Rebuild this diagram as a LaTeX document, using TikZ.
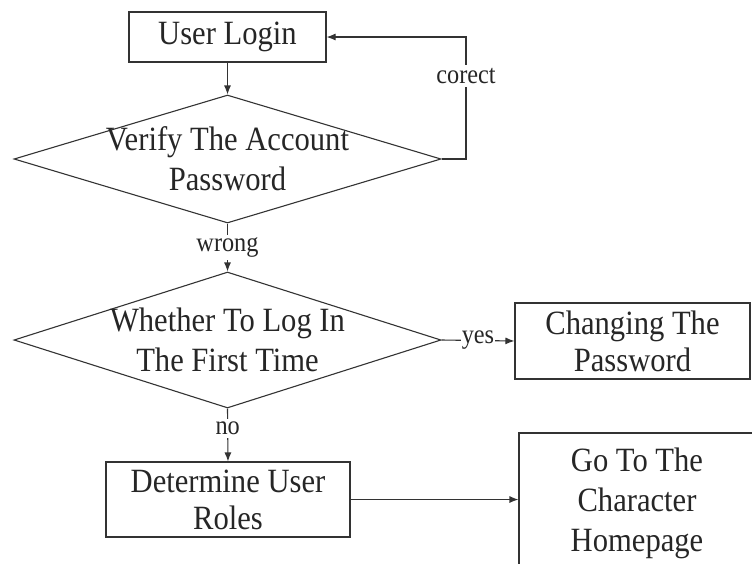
\documentclass[tikz,border=0pt]{standalone}
\usepackage{fontspec}
\setmainfont{Liberation Serif}
\newfontfamily\condfont[FakeStretch=0.9]{Liberation Serif}
\usetikzlibrary{shapes.geometric,arrows.meta}
\definecolor{ln}{HTML}{333333}
\definecolor{tx}{HTML}{262626}
\begin{document}
\begin{tikzpicture}[x=1pt,y=-1pt,
  line width=1.1pt,
  arr/.style={draw=ln,-{Latex[length=9pt,width=7pt]}},
  boxnode/.style={draw=ln,line width=1.1pt,rectangle,inner sep=0pt,align=center,text=tx,
    font=\condfont\fontsize{34}{39}\selectfont},
  dia/.style={draw=ln,line width=1.1pt,diamond,inner sep=0pt},
  txt/.style={align=center,text=tx,inner sep=0pt,font=\condfont\fontsize{34}{40}\selectfont},
  lab/.style={fill=white,text=tx,inner sep=3pt,font=\condfont\fontsize{27}{28}\selectfont}]
\useasboundingbox (0,0) rectangle (752,563);
\fill[white] (0,0) rectangle (752,563);
% nodes
\node[boxnode,minimum width=197pt,minimum height=50pt] (login) at (227.5,37) {User Login};
\node[dia,minimum width=427pt,minimum height=128pt] (d1) at (227.5,159) {};
\node[txt] (t1) at (d1.center) {Verify The Account\\Password};
\node[dia,minimum width=427pt,minimum height=136pt] (d2) at (227.5,340) {};
\node[txt] (t2) at (d2.center) {Whether To Log In\\The First Time};
\node[boxnode,minimum width=235pt,minimum height=76pt,font=\condfont\fontsize{34}{37}\selectfont] (chg) at (632.5,341) {Changing The\\Password};
\node[boxnode,minimum width=244pt,minimum height=75pt,font=\condfont\fontsize{34}{37}\selectfont] (det) at (228,499.5) {Determine User\\Roles};
\node[boxnode,minimum width=236pt,minimum height=140pt,font=\condfont\fontsize{34}{40}\selectfont] (goto) at (637,503) {Go To The\\Character\\Homepage};
\coordinate (c1) at (466,159);
\coordinate (c2) at (466,37);
% connectors
\draw[arr] (login.south) -- (d1.north);
\draw[arr] (d1.east) -- (c1) -- node[lab,pos=0.68] (lc) {corect} (c2) -- (login.east);
\draw[arr] (d1.south) -- node[lab,midway] (lw) {wrong} (d2.north);
\draw[arr] (d2.east) -- node[lab,midway,inner sep=1pt] (ly) {yes} (chg.west);
\draw[arr] (d2.south) -- node[lab,pos=0.38] (ln) {no} (det.north);
\draw[arr] (det.east) -- (det.east -| goto.west);
\end{tikzpicture}
\end{document}
